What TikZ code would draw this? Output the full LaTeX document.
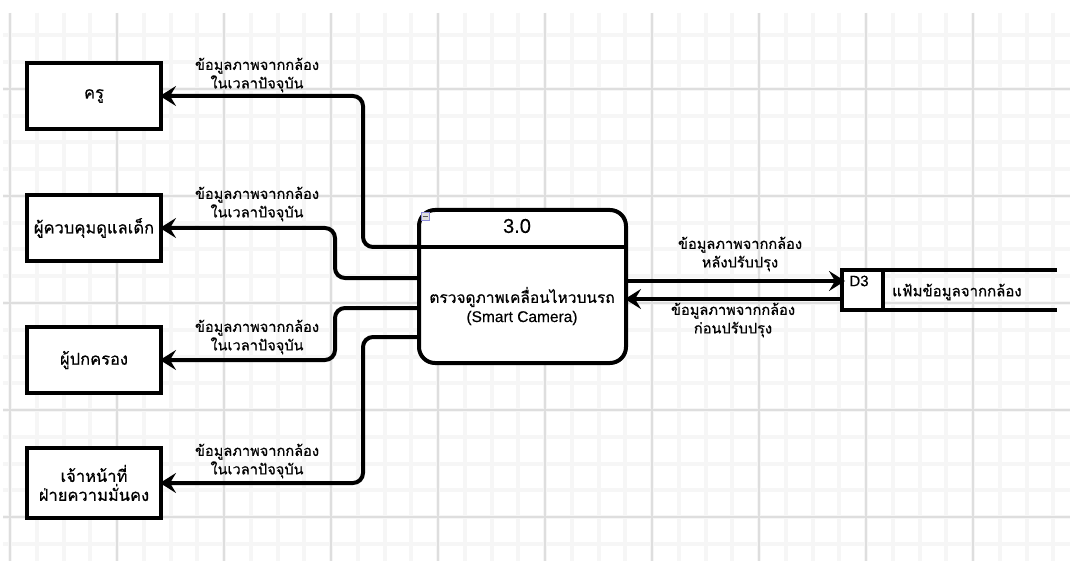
\documentclass[tikz,border=0pt]{standalone}
\usepackage{fontspec}
\setmainfont{Liberation Sans}[FakeBold=0.3]
\newfontfamily\thai[Script=Thai, FakeBold=0.6]{Loma}
\usetikzlibrary{arrows.meta}

\definecolor{gridminor}{RGB}{246,246,246}
\definecolor{gridmajor}{RGB}{222,222,222}

\tikzset{
  minorline/.style={draw=gridminor, line width=4pt},
  majorline/.style={draw=gridmajor, line width=1.8pt},
  entity/.style={draw, line width=4pt, fill=white, minimum width=134pt,
    minimum height=66pt, align=center, inner sep=0pt,
    font=\thai\fontsize{16.5}{19}\selectfont},
  procbox/.style={draw, line width=4pt, fill=white, rounded corners=16pt,
    minimum width=207pt, minimum height=153pt, inner sep=0pt},
  storecell/.style={draw, line width=3.5pt, fill=white, minimum width=41pt,
    minimum height=40pt, inner sep=0pt, outer sep=0pt},
  flowlabel/.style={align=center, inner sep=0pt,
    font=\thai\fontsize{14.6}{18.5}\selectfont},
  flow/.style={line width=4pt, rounded corners=10pt,
    -{Stealth[length=16pt, width=20pt, inset=6pt]}, shorten >=-3pt},
}

\begin{document}
\begin{tikzpicture}[x=1pt, y=-1pt]
\useasboundingbox (0,0) rectangle (1070,561);
\fill[white] (0,0) rectangle (1070,561);

% background grid: light minor lines, darker major lines every fourth
\foreach \k in {0,...,39} \draw[minorline] ({10+26.75*\k},13) -- ({10+26.75*\k},561);
\foreach \k in {-2,...,17} \draw[minorline] (3,{89+26.75*\k}) -- (1070,{89+26.75*\k});
\foreach \k in {0,...,9} \draw[majorline] ({10+107*\k},13) -- ({10+107*\k},561);
\foreach \k in {0,...,4} \draw[majorline] (3,{89+107*\k}) -- (1070,{89+107*\k});

% external entities
\node[entity] (kru) at (94,96) {ครู};
\node[entity] (guard) at (94,228) {ผู้ควบคุมดูแลเด็ก};
\node[entity] (parent) at (94,360) {ผู้ปกครอง};
\node[entity, minimum height=70pt] (security) at (94,483) {เจ้าหน้าที่\\ฝ่ายความมั่นคง};

% process 3.0
\node[procbox] (proc) at (522.5,286.5) {};
\draw[line width=4pt] (proc.west |- 0,247) -- (proc.east |- 0,247);
\filldraw[fill=gray!25, draw=gray!50!blue!60, line width=0.6pt] (421,212) rectangle (429,220);
\draw[gray!70!black, line width=0.9pt] (422.5,216) -- (427.5,216);
\node[font=\fontsize{20}{24}\selectfont] (procid) at (517,226) {3.0};
\node[font=\thai\fontsize{15.5}{19}\selectfont] (procname) at (522,297) {ตรวจดูภาพเคลื่อนไหวบนรถ};
\node[font=\fontsize{15.5}{19}\selectfont] (proctag) at (522,318) {(Smart Camera)};

% data store D3: closed id cell, open-ended top and bottom rails
\node[storecell] (store) at (862.5,290) {};
\draw[line width=3.5pt] (store.north east) -- (store.north east -| 1057,0);
\draw[line width=3.5pt] (store.south east) -- (store.south east -| 1057,0);
\node[font=\fontsize{15}{18}\selectfont] (storeid) at (859,281) {D3};
\node[font=\thai\fontsize{15}{18}\selectfont] (storename) at (957,292) {แฟ้มข้อมูลจากกล้อง};

% data flows to the entities
\draw[flow] (proc.west |- 0,247) -- (363,247) |- (kru.east);
\draw[flow] (proc.west |- 0,278) -- (335,278) |- (guard.east);
\draw[flow] (proc.west |- 0,308) -- (335,308) |- (parent.east);
\draw[flow] (proc.west |- 0,337) -- (363,337) |- (security.east);

% data flows between the process and the store
\draw[flow] (proc.east |- 0,281) -- (store.west |- 0,281);
\draw[flow] (store.west |- 0,299) -- (proc.east |- 0,299);

% flow labels
\node[flowlabel] (lbl1) at (257,75) {ข้อมูลภาพจากกล้อง\\ในเวลาปัจจุบัน};
\node[flowlabel] (lbl2) at (257,204) {ข้อมูลภาพจากกล้อง\\ในเวลาปัจจุบัน};
\node[flowlabel] (lbl3) at (257,337) {ข้อมูลภาพจากกล้อง\\ในเวลาปัจจุบัน};
\node[flowlabel] (lbl4) at (257,461) {ข้อมูลภาพจากกล้อง\\ในเวลาปัจจุบัน};
\node[flowlabel] (lbl5) at (740,254) {ข้อมูลภาพจากกล้อง\\หลังปรับปรุง};
\node[flowlabel] (lbl6) at (733,320) {ข้อมูลภาพจากกล้อง\\ก่อนปรับปรุง};
\end{tikzpicture}
\end{document}
